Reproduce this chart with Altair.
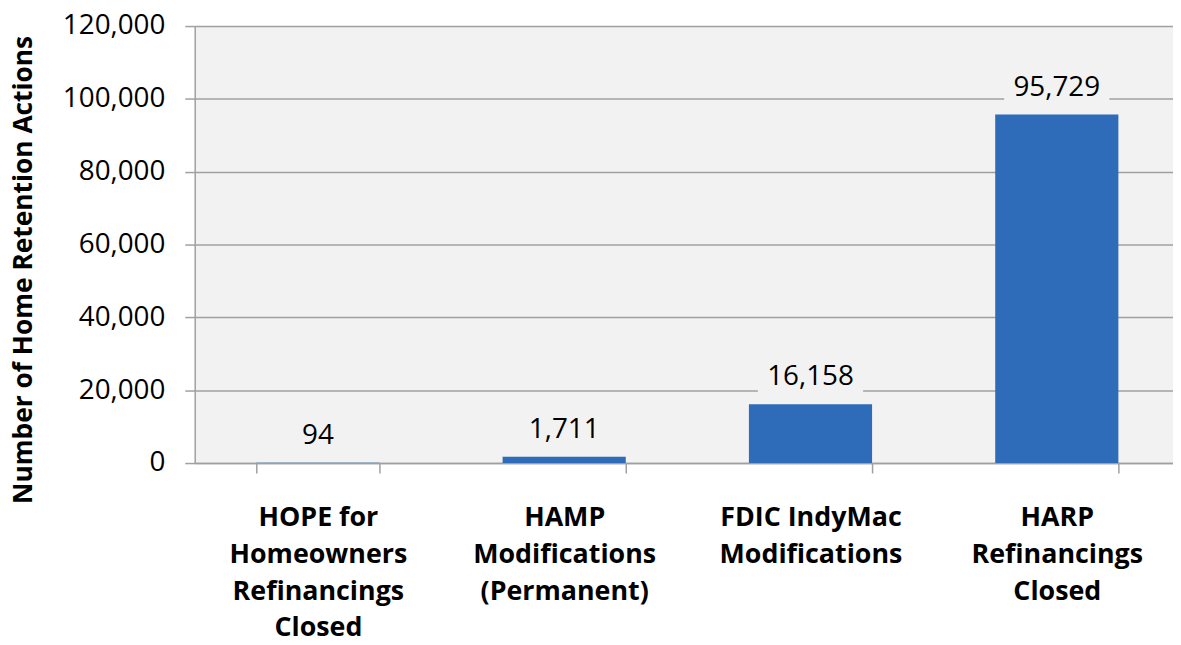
import altair as alt
import pandas as pd

# ---- data ----
categories = [
    "HOPE for|Homeowners|Refinancings|Closed",
    "HAMP|Modifications|(Permanent)",
    "FDIC IndyMac|Modifications",
    "HARP|Refinancings|Closed",
]
values = [94, 1711, 16158, 95729]
y_ticks = [0, 20000, 40000, 60000, 80000, 100000, 120000]

df = pd.DataFrame({"program": categories, "actions": values})

FONT = "Open Sans"
GRAY = "#A0A0A0"
BG = "#F2F2F2"
BLUE = "#2E6BB8"

x_enc = alt.X(
    "program:N",
    sort=categories,
    title=None,
    scale=alt.Scale(range=[0, 992], paddingInner=0.5, paddingOuter=0.25),
    axis=alt.Axis(
        labelExpr="split(datum.label, '|')",
        labelAngle=0,
        labelFont=FONT,
        labelFontWeight="bold",
        labelFontSize=27,
        labelLineHeight=37,
        labelPadding=32,
        labelColor="#000000",
        labelLimit=400,
        tickBand="extent",
        tickSize=10,
        tickColor=GRAY,
        tickWidth=1.5,
        domainColor=GRAY,
        domainWidth=1.5,
    ),
)

y_enc = alt.Y(
    "actions:Q",
    scale=alt.Scale(domain=[0, 120000], nice=False),
    axis=alt.Axis(
        values=y_ticks,
        labelExpr="format(datum.value, ',')",
        title="Number of Home Retention Actions",
        titleFont=FONT,
        titleFontSize=26.5,
        titleFontWeight="bold",
        titleColor="#000000",
        titleX=-172,
        titleY=245,
        titleAngle=270,
        titleAlign="center",
        titleBaseline="middle",
        labelFont=FONT,
        labelFontSize=28,
        labelColor="#000000",
        labelPadding=20,
        tickSize=10,
        tickColor=GRAY,
        tickWidth=1.5,
        gridColor=GRAY,
        gridWidth=1.5,
        domainColor=GRAY,
        domainWidth=1.5,
    ),
)

base = alt.Chart(df)

bars = base.mark_bar(color=BLUE).encode(x=x_enc, y=y_enc)

label_box = base.mark_bar(color=BG, width=106, yOffset=-48, y2Offset=-8).encode(
    x=alt.X("program:N", sort=categories),
    y=alt.Y("actions:Q"),
    y2="actions:Q",
)

labels = base.mark_text(
    font=FONT, fontSize=28, color="#000000", baseline="alphabetic", dy=-19
).encode(
    x=alt.X("program:N", sort=categories),
    y=alt.Y("actions:Q"),
    text=alt.Text("actions:Q", format=","),
)

chart = (
    alt.layer(bars, label_box, labels)
    .properties(
        width=985,
        height=440,
        autosize=alt.AutoSizeParams(type="none"),
        padding={"left": 188, "top": 16, "right": 0, "bottom": 178},
        background="white",
    )
    .configure_view(fill=BG, stroke=None)
)

chart.save("out.html", embed_options={"renderer": "svg", "actions": False})
